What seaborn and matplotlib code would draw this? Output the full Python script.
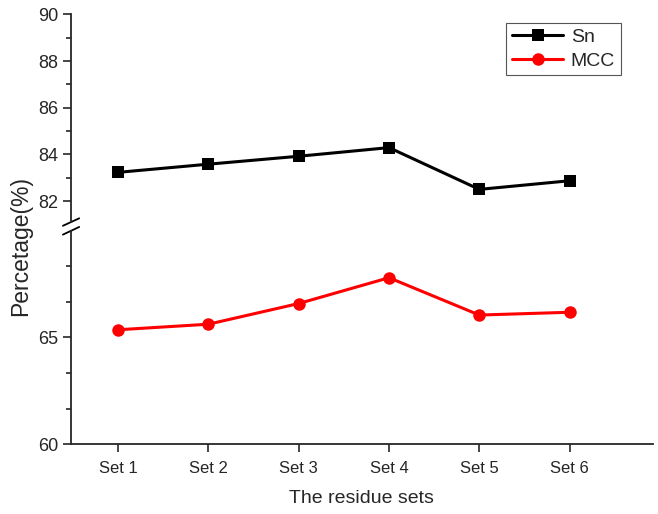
import matplotlib
matplotlib.use("Agg")
import matplotlib.pyplot as plt
import seaborn as sns
import pandas as pd
from matplotlib.ticker import MultipleLocator, FixedLocator

sets = ["Set 1", "Set 2", "Set 3", "Set 4", "Set 5", "Set 6"]
sn = [83.23, 83.58, 83.92, 84.29, 82.50, 82.87]
mcc = [65.36, 65.62, 66.59, 67.80, 66.05, 66.18]

sns.set_style("ticks")
plt.rcParams['font.family'] = ['Liberation Sans', 'DejaVu Sans']

df = pd.DataFrame({"set": sets * 2,
                   "value": sn + mcc,
                   "series": ["Sn"] * 6 + ["MCC"] * 6})

fig = plt.figure(figsize=(6.58, 5.14), dpi=100)
ax_top = fig.add_axes([0.108, 0.568, 0.884, 0.404])
ax_bot = fig.add_axes([0.108, 0.136, 0.884, 0.415])

for ax in (ax_top, ax_bot):
    sns.lineplot(data=df, x="set", y="value", hue="series", style="series",
                 palette={"Sn": "black", "MCC": "red"},
                 markers={"Sn": "s", "MCC": "o"}, dashes=False,
                 markersize=9, markeredgewidth=0, linewidth=2.2, ax=ax,
                 legend=(ax is ax_top))
    ax.set_xlim(-0.52, 5.92)
    ax.set_xlabel("")
    ax.set_ylabel("")
    for s in ("top", "right"):
        ax.spines[s].set_visible(False)
    ax.spines["left"].set_linewidth(1.3)
    ax.spines["bottom"].set_linewidth(1.3)
    ax.tick_params(axis="y", which="major", length=6, width=1.2,
                   labelsize=13, direction="out", pad=3)
    ax.tick_params(axis="y", which="minor", length=3.5, width=1.2, direction="out")
    ax.patch.set_alpha(0)

# upper part
ax_top.set_ylim(81.1, 90)
ax_top.yaxis.set_major_locator(FixedLocator([82, 84, 86, 88, 90]))
ax_top.yaxis.set_minor_locator(MultipleLocator(1))
ax_top.spines["bottom"].set_visible(False)
ax_top.tick_params(axis="x", which="both", bottom=False, labelbottom=False)

# lower part
ax_bot.set_ylim(60, 70)
ax_bot.yaxis.set_major_locator(FixedLocator([60, 65]))
ax_bot.yaxis.set_minor_locator(FixedLocator([61.667, 63.333, 66.667, 68.333]))
ax_bot.tick_params(axis="x", length=6, width=1.2, labelsize=12, pad=6)
ax_bot.set_xlabel("The residue sets", fontsize=14, labelpad=10)

fig.text(0.032, 0.522, "Percetage(%)", rotation=90, fontsize=16.5,
         ha="center", va="center")

# break marks on the y axis
for ax, y in ((ax_top, 0.0), (ax_bot, 1.0)):
    trans = ax.transAxes
    dx = 0.014
    dy = 0.018
    ax.plot([-dx, dx], [y - dy, y + dy], color="black", lw=1.3,
            transform=trans, clip_on=False)

leg = ax_top.get_legend()
leg.set_title(None)
handles, labels = ax_top.get_legend_handles_labels()
ax_top.legend(handles, labels, loc="upper right", bbox_to_anchor=(0.945, 0.96),
              borderaxespad=0, fontsize=14, frameon=True, fancybox=False,
              edgecolor="#555555", framealpha=1, handlelength=2.6,
              borderpad=0.3, labelspacing=0.3, handletextpad=0.4)
ax_top.get_legend().get_frame().set_linewidth(0.8)

fig.savefig("out.png", dpi=100)
